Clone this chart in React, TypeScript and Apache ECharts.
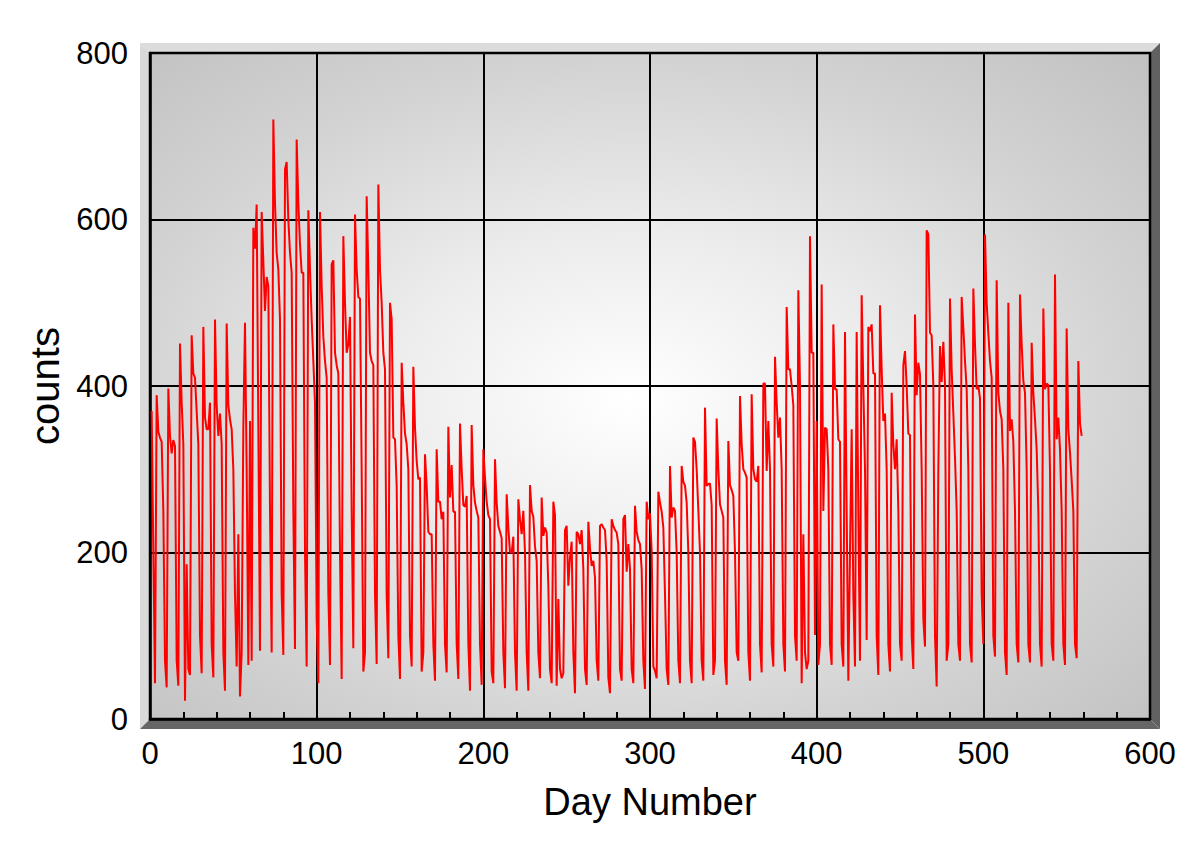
import React, { useEffect, useRef } from "react";
import * as echarts from "echarts";

// Daily counts, day 1 .. day 559 (weeks start on the Monday peaks)
const startDay = 1;
const countsDays1to101 = [
  370, 200, 43,
  389, 345, 338, 333, 250, 70, 38,
  397, 340, 319, 335, 328, 70, 40,
  451, 380, 330, 22, 186, 60, 53,
  461, 415, 410, 370, 330, 100, 55,
  471, 362, 348, 348, 380, 90, 50,
  480, 377, 340, 367, 330, 80, 34,
  475, 377, 360, 348, 300, 150, 63,
  222, 27, 80, 350, 476, 300, 65,
  358, 70, 590, 565, 618, 350, 82,
  609, 550, 490, 531, 520, 250, 80,
  720, 620, 560, 540, 480, 150, 77,
  660, 669, 600, 560, 536, 250, 84,
  696, 620, 570, 536, 536, 200, 63,
  611, 540, 480, 430, 380, 120, 43,
];
const countsDays102to199 = [
  609, 520, 459, 430, 410, 150, 65,
  546, 551, 440, 425, 415, 200, 48,
  580, 500, 440, 450, 483, 250, 85,
  606, 540, 507, 505, 300, 57, 80,
  628, 540, 440, 430, 425, 150, 66,
  642, 540, 500, 440, 420, 150, 73,
  500, 480, 338, 336, 280, 100, 48,
  428, 380, 343, 330, 300, 100, 63,
  423, 350, 310, 288, 290, 57, 80,
  318, 280, 225, 222, 222, 90, 46,
  324, 261, 261, 240, 249, 90, 56,
  351, 266, 305, 249, 249, 90, 48,
  355, 300, 257, 255, 268, 90, 34,
  353, 281, 260, 250, 242, 90, 41,
];
const countsDays200to304 = [
  324, 290, 261, 245, 240, 57, 43,
  312, 260, 232, 225, 217, 80, 37,
  270, 230, 200, 200, 219, 80, 34,
  264, 240, 222, 250, 200, 80, 34,
  281, 250, 243, 207, 190, 80, 49,
  266, 220, 230, 224, 160, 60, 43,
  261, 245, 40, 144, 60, 49, 55,
  227, 232, 160, 194, 213, 80, 31,
  225, 222, 210, 227, 180, 60, 41,
  237, 205, 184, 190, 170, 70, 46,
  232, 234, 230, 227, 190, 50, 31,
  240, 232, 227, 224, 210, 60, 46,
  240, 245, 177, 210, 180, 60, 43,
  256, 225, 215, 210, 180, 70, 36,
  261, 240, 247, 202, 63, 58, 49,
];
const countsDays305to402 = [
  273, 260, 249, 230, 150, 60, 41,
  304, 242, 254, 250, 200, 70, 43,
  304, 285, 280, 260, 200, 70, 43,
  338, 333, 300, 251, 200, 70, 46,
  374, 280, 282, 283, 257, 53, 70,
  361, 300, 258, 250, 242, 70, 41,
  334, 281, 275, 268, 200, 80, 70,
  388, 330, 300, 296, 290, 80, 46,
  390, 300, 288, 285, 304, 90, 56,
  403, 403, 298, 358, 300, 90, 63,
  435, 380, 338, 362, 300, 90, 57,
  495, 420, 420, 400, 377, 100, 70,
  515, 400, 43, 222, 80, 60, 70,
  580, 440, 440, 101, 358, 65, 90,
];
const countsDays403to500 = [
  522, 250, 350, 348, 300, 90, 65,
  474, 396, 396, 336, 333, 90, 63,
  465, 250, 46, 200, 348, 150, 63,
  465, 250, 70, 509, 400, 300, 95,
  471, 466, 474, 415, 415, 100, 53,
  497, 420, 358, 367, 300, 90, 57,
  392, 330, 300, 336, 250, 90, 70,
  425, 442, 400, 343, 341, 100, 60,
  486, 389, 428, 414, 300, 120, 87,
  587, 582, 464, 461, 401, 100, 39,
  300, 448, 405, 453, 401, 70, 90,
  505, 420, 367, 314, 250, 90, 70,
  507, 470, 430, 396, 300, 90, 68,
  517, 450, 396, 400, 385, 150, 90,
];
const countsDays501to559 = [
  582, 500, 464, 430, 410, 100, 75,
  527, 392, 370, 360, 300, 80, 53,
  500, 346, 360, 333, 250, 90, 68,
  510, 450, 406, 392, 300, 90, 68,
  452, 392, 360, 324, 250, 90, 63,
  493, 396, 403, 401, 300, 90, 70,
  534, 336, 362, 324, 250, 90, 65,
  469, 348, 320, 287, 250, 90, 73,
  430, 355, 340,
];

const xTicks = { min: 0, max: 600, interval: 100 };
const yTicks = { min: 0, max: 800, interval: 200 };
const xTitle = "Day Number";
const yTitle = "counts";

const FONT = "'Liberation Sans', Arial, Helvetica, sans-serif";

export default function App() {
  const ref = useRef<HTMLDivElement>(null);

  useEffect(() => {
    if (!ref.current) return;
    const chart = echarts.init(ref.current, null, { renderer: "svg" });

    const values = [
      ...countsDays1to101,
      ...countsDays102to199,
      ...countsDays200to304,
      ...countsDays305to402,
      ...countsDays403to500,
      ...countsDays501to559,
    ];
    const data = values.map((v, i) => [i + startDay, v]);

    const L = 150, T = 53, R = 1150, B = 719, D = 10;

    const option: any = {
      animation: false,
      backgroundColor: "#ffffff",
      grid: {
        left: L,
        top: T,
        right: 1200 - R,
        bottom: 846 - B,
        show: true,
        borderColor: "#000",
        borderWidth: 2.5,
        backgroundColor: "transparent",
      },
      graphic: [
        {
          type: "rect",
          z: -10,
          silent: true,
          shape: { x: L, y: T, width: R - L, height: B - T },
          style: {
            fill: new echarts.graphic.RadialGradient(0.48, 0.52, 0.72, [
              { offset: 0, color: "#ffffff" },
              { offset: 0.35, color: "#ececec" },
              { offset: 0.7, color: "#d3d3d3" },
              { offset: 1, color: "#c2c2c2" },
            ]),
          },
        },
        {
          type: "polygon",
          z: -10,
          silent: true,
          shape: { points: [[L - D, T - D], [R + D, T - D], [R, T], [L, T]] },
          style: { fill: "#dcdcdc" },
        },
        {
          type: "polygon",
          z: -10,
          silent: true,
          shape: { points: [[L - D, T - D], [L, T], [L, B], [L - D, B + D]] },
          style: { fill: "#d9d9d9" },
        },
        {
          type: "polygon",
          z: -10,
          silent: true,
          shape: { points: [[R, T], [R + D, T - D], [R + D, B + D], [R, B]] },
          style: { fill: "#616161" },
        },
        {
          type: "polygon",
          z: -10,
          silent: true,
          shape: { points: [[L - D, B + D], [L, B], [R, B], [R + D, B + D]] },
          style: { fill: "#666666" },
        },
      ],
      xAxis: {
        type: "value",
        min: xTicks.min,
        max: xTicks.max,
        interval: xTicks.interval,
        name: xTitle,
        nameLocation: "middle",
        nameGap: 64,
        nameTextStyle: { fontFamily: FONT, fontSize: 38, color: "#000" },
        axisLine: { show: true, lineStyle: { color: "#000", width: 2.5 } },
        axisTick: { show: true, inside: true, length: 7, lineStyle: { color: "#000", width: 2 } },
        minorTick: { show: true, splitNumber: 5, length: 7, lineStyle: { color: "#000", width: 2 } },
        splitLine: { show: true, lineStyle: { color: "#000", width: 2 } },
        axisLabel: { fontFamily: FONT, fontSize: 31, color: "#000", margin: 19 },
      },
      yAxis: {
        type: "value",
        min: yTicks.min,
        max: yTicks.max,
        interval: yTicks.interval,
        name: yTitle,
        nameLocation: "middle",
        nameGap: 82,
        nameTextStyle: { fontFamily: FONT, fontSize: 40, color: "#000" },
        axisLine: { show: true, lineStyle: { color: "#000", width: 2.5 } },
        axisTick: { show: false },
        splitLine: { show: true, lineStyle: { color: "#000", width: 2 } },
        axisLabel: { fontFamily: FONT, fontSize: 31, color: "#000", margin: 22 },
      },
      series: [
        {
          type: "line",
          data,
          showSymbol: false,
          symbol: "none",
          lineStyle: { color: "#ff0000", width: 2 },
          z: 3,
        },
      ],
    };

    chart.setOption(option);
    return () => chart.dispose();
  }, []);

  return (
    <div
      ref={ref}
      style={{ position: "absolute", left: 0, top: 0, width: 1200, height: 846, background: "#fff" }}
    />
  );
}
